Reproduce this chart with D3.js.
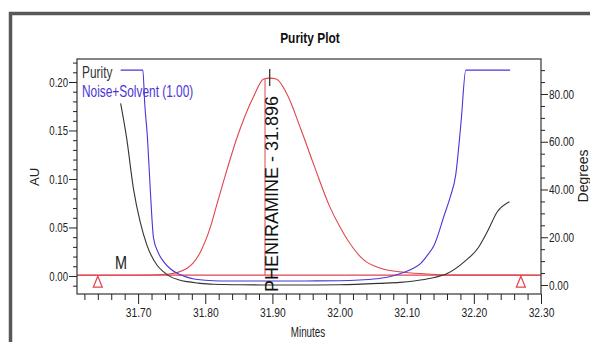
<!DOCTYPE html>
<html>
<head>
<meta charset="utf-8">
<script src="https://cdn.jsdelivr.net/npm/d3@7"></script>
<style>
  body { margin: 0; background: #fff; }
  svg { display: block; }
  text { font-family: "Liberation Sans", Arial, sans-serif; }
  .axis path { display: none; }
  .axis line { stroke: #222; }
  .axis text { fill: #222; font-family: "Liberation Sans", Arial, sans-serif; }
</style>
</head>
<body>
<div id="purity-plot"></div>
<script>
// Purity angle (black, degrees)
let purityTime = [31.674, 31.683, 31.693, 31.703, 31.713, 31.728, 31.738, 31.748, 31.760, 31.773, 31.790, 31.812, 31.850, 31.900, 31.950, 32.000, 32.061, 32.090, 32.111, 32.136, 32.161, 32.186, 32.206, 32.220, 32.235, 32.253];
let purityDeg = [76.1, 61.4, 40.5, 26.5, 16.8, 8.4, 5.5, 3.5, 2.2, 1.4, 0.8, 0.3, 0.1, 0.0, 0.0, 0.1, 0.7, 1.1, 1.7, 2.8, 4.9, 9.8, 15.4, 22.3, 30.7, 34.9];

// Noise+Solvent threshold (blue, degrees)
let thresholdTime = [31.674, 31.707, 31.710, 31.714, 31.718, 31.723, 31.730, 31.738, 31.748, 31.758, 31.770, 31.783, 31.800, 31.822, 31.850, 31.900, 31.950, 32.000, 32.030, 32.061, 32.080, 32.096, 32.110, 32.121, 32.131, 32.141, 32.156, 32.165, 32.173, 32.181, 32.188, 32.254];
let thresholdDeg = [90, 90, 75.4, 61.4, 40.6, 19.6, 13.5, 9.8, 6.8, 4.9, 3.5, 2.5, 2.0, 1.7, 1.7, 1.7, 1.7, 1.8, 2.1, 2.8, 3.9, 5.3, 7.0, 9.1, 12.5, 16.8, 29.3, 37.0, 46.1, 68.4, 90, 90];

// Chromatogram (red, AU)
let chromTime = [31.609, 31.700, 31.743, 31.773, 31.793, 31.807, 31.817, 31.827, 31.847, 31.872, 31.887, 31.896, 31.906, 31.922, 31.942, 31.962, 31.985, 32.001, 32.013, 32.036, 32.061, 32.096, 32.136, 32.180, 32.300];
let chromAU = [0.0008, 0.0008, 0.0018, 0.008, 0.025, 0.049, 0.073, 0.097, 0.142, 0.185, 0.203, 0.204, 0.203, 0.187, 0.152, 0.114, 0.072, 0.050, 0.036, 0.0165, 0.008, 0.0038, 0.0018, 0.0009, 0.0008];

let peakName = "PHENIRAMINE";
let peakTime = 31.896;
let dropTime = 31.889;
let baselineAU = 0.0008;
let markerTimes = [31.640, 32.270];
let markerLabel = "M";
let markerLabelTime = 31.6745;

let xTicks = [31.70, 31.80, 31.90, 32.00, 32.10, 32.20, 32.30];
let xMinor = [31.62, 31.64, 31.66, 31.68, 31.72, 31.74, 31.76, 31.78, 31.82, 31.84, 31.86, 31.88, 31.92, 31.94, 31.96, 31.98, 32.02, 32.04, 32.06, 32.08, 32.12, 32.14, 32.16, 32.18, 32.22, 32.24, 32.26, 32.28];
let auTicks = [0.00, 0.05, 0.10, 0.15, 0.20];
let auMinor = [-0.01, 0.01, 0.02, 0.03, 0.04, 0.06, 0.07, 0.08, 0.09, 0.11, 0.12, 0.13, 0.14, 0.16, 0.17, 0.18, 0.19, 0.21, 0.22];
let degTicks = [0, 20, 40, 60, 80];
let degMinor = [5, 10, 15, 25, 30, 35, 45, 50, 55, 65, 70, 75, 85, 90];

let margin = { top: 59, right: 49, bottom: 48, left: 77 };
let totalW = 590, totalH = 342;
let width = totalW - margin.left - margin.right;
let height = totalH - margin.top - margin.bottom;

// no narrow font installed: squeeze glyphs horizontally
function squeeze(sel, k) {
    sel.each(function () {
        let w = this.getComputedTextLength();
        d3.select(this).attr("textLength", w * k).attr("lengthAdjust", "spacingAndGlyphs");
    });
}

let svg = d3.select("#purity-plot").append("svg")
    .attr("width", totalW)
    .attr("height", totalH);

// outer frame
svg.append("rect")
    .attr("x", 10.5).attr("y", 13.5)
    .attr("width", 620).attr("height", 400)
    .attr("fill", "#fff")
    .attr("stroke", "#585858")
    .attr("stroke-width", 3.5);

let title = svg.append("text")
    .attr("x", 310).attr("y", 43)
    .attr("text-anchor", "middle")
    .style("font-size", "15.5px")
    .style("font-weight", "bold")
    .attr("fill", "#111")
    .text("Purity Plot");
squeeze(title, 0.77);

let g = svg.append("g").attr("transform", "translate(" + margin.left + "," + margin.top + ")");

let x = d3.scaleLinear().domain([31.609, 32.30]).range([0, width]);
let yAU = d3.scaleLinear().domain([-0.0186, 0.2237]).range([height, 0]);
let yDeg = d3.scaleLinear().domain([-3.77, 94.66]).range([height, 0]);

g.append("clipPath").attr("id", "plot-clip")
    .append("rect").attr("width", width).attr("height", height);

let plot = g.append("g").attr("clip-path", "url(#plot-clip)");

// baseline
plot.append("line")
    .attr("x1", 0).attr("x2", width)
    .attr("y1", yAU(baselineAU)).attr("y2", yAU(baselineAU))
    .attr("stroke", "#e0454d").attr("stroke-width", 1.2);

let chromLine = d3.line()
    .x(function (d, i) { return x(chromTime[i]); })
    .y(function (d) { return yAU(d); })
    .curve(d3.curveMonotoneX);

plot.append("path")
    .datum(chromAU)
    .attr("d", chromLine)
    .attr("fill", "none")
    .attr("stroke", "#e0454d")
    .attr("stroke-width", 1.1);

// drop line at apex
plot.append("line")
    .attr("x1", x(dropTime)).attr("x2", x(dropTime))
    .attr("y1", yAU(baselineAU)).attr("y2", yAU(0.203))
    .attr("stroke", "#e0454d").attr("stroke-width", 1);

let thrLine = d3.line()
    .x(function (d, i) { return x(thresholdTime[i]); })
    .y(function (d) { return yDeg(d); })
    .curve(d3.curveMonotoneX);

plot.append("path")
    .datum(thresholdDeg)
    .attr("d", thrLine)
    .attr("fill", "none")
    .attr("stroke", "#4a35d8")
    .attr("stroke-width", 1.1);

let purLine = d3.line()
    .x(function (d, i) { return x(purityTime[i]); })
    .y(function (d) { return yDeg(d); })
    .curve(d3.curveMonotoneX);

plot.append("path")
    .datum(purityDeg)
    .attr("d", purLine)
    .attr("fill", "none")
    .attr("stroke", "#333")
    .attr("stroke-width", 1.1);

// integration markers
plot.selectAll(".marker")
    .data(markerTimes)
    .enter().append("path")
    .attr("class", "marker")
    .attr("d", function (d) {
        let cx = x(d), top = yAU(baselineAU) + 1;
        return "M" + cx + "," + top + "L" + (cx + 4.5) + "," + (top + 11) + "L" + (cx - 4.5) + "," + (top + 11) + "Z";
    })
    .attr("fill", "#fff")
    .attr("stroke", "#e0454d")
    .attr("stroke-width", 1.2);

let mLabel = g.append("text")
    .attr("x", x(markerLabelTime)).attr("y", yAU(baselineAU) - 6)
    .attr("text-anchor", "middle")
    .style("font-size", "18px")
    .attr("fill", "#222")
    .text(markerLabel);
squeeze(mLabel, 0.8);

// peak label
g.append("line")
    .attr("x1", x(peakTime)).attr("x2", x(peakTime))
    .attr("y1", 10).attr("y2", 27)
    .attr("stroke", "#222").attr("stroke-width", 1.2);

g.append("text")
    .attr("transform", "translate(" + (x(peakTime) + 8) + "," + (height - 2) + ") rotate(-90)")
    .style("font-size", "18px")
    .attr("fill", "#111")
    .text(peakName + " - " + peakTime.toFixed(3));

// plot frame
g.append("rect")
    .attr("width", width).attr("height", height)
    .attr("fill", "none")
    .attr("stroke", "#444")
    .attr("stroke-width", 1.3);

// axes
let xAxis = g.append("g").attr("class", "axis")
    .attr("transform", "translate(0," + height + ")")
    .call(d3.axisBottom(x).tickValues(xTicks).tickSize(10).tickPadding(3).tickFormat(d3.format(".2f")));
xAxis.selectAll("text").style("font-size", "13.5px");
squeeze(xAxis.selectAll("text"), 0.76);
g.append("g").attr("class", "axis")
    .attr("transform", "translate(0," + height + ")")
    .call(d3.axisBottom(x).tickValues(xMinor).tickSize(6).tickFormat(""));

let yAxisL = g.append("g").attr("class", "axis")
    .call(d3.axisLeft(yAU).tickValues(auTicks).tickSize(8).tickPadding(1).tickFormat(d3.format(".2f")));
yAxisL.selectAll("text").style("font-size", "13px");
squeeze(yAxisL.selectAll("text"), 0.74);
g.append("g").attr("class", "axis")
    .call(d3.axisLeft(yAU).tickValues(auMinor).tickSize(4).tickFormat(""));

let yAxisR = g.append("g").attr("class", "axis")
    .attr("transform", "translate(" + width + ",0)")
    .call(d3.axisRight(yDeg).tickValues(degTicks).tickSize(7).tickPadding(1).tickFormat(d3.format(".2f")));
yAxisR.selectAll("text").style("font-size", "13px");
squeeze(yAxisR.selectAll("text"), 0.77);
g.append("g").attr("class", "axis")
    .attr("transform", "translate(" + width + ",0)")
    .call(d3.axisRight(yDeg).tickValues(degMinor).tickSize(4).tickFormat(""));

// axis titles
let xTitle = svg.append("text")
    .attr("x", 308).attr("y", 337)
    .attr("text-anchor", "middle")
    .style("font-size", "14px")
    .attr("fill", "#222")
    .text("Minutes");
squeeze(xTitle, 0.7);

svg.append("text")
    .attr("transform", "translate(39,177) rotate(-90)")
    .attr("text-anchor", "middle")
    .style("font-size", "13px")
    .attr("fill", "#222")
    .text("AU");

svg.append("text")
    .attr("transform", "translate(588,176) rotate(-90)")
    .attr("text-anchor", "middle")
    .style("font-size", "14px")
    .attr("fill", "#222")
    .text("Degrees");

// legend
let legPurity = svg.append("text")
    .attr("x", 82).attr("y", 78)
    .style("font-size", "16.5px")
    .attr("fill", "#333")
    .text("Purity");

let legNoise = svg.append("text")
    .attr("x", 82).attr("y", 97)
    .style("font-size", "16.5px")
    .attr("fill", "#4a35d8")
    .text("Noise+Solvent (1.00)");

squeeze(legPurity, 0.72);
squeeze(legNoise, 0.72);
</script>
</body>
</html>
